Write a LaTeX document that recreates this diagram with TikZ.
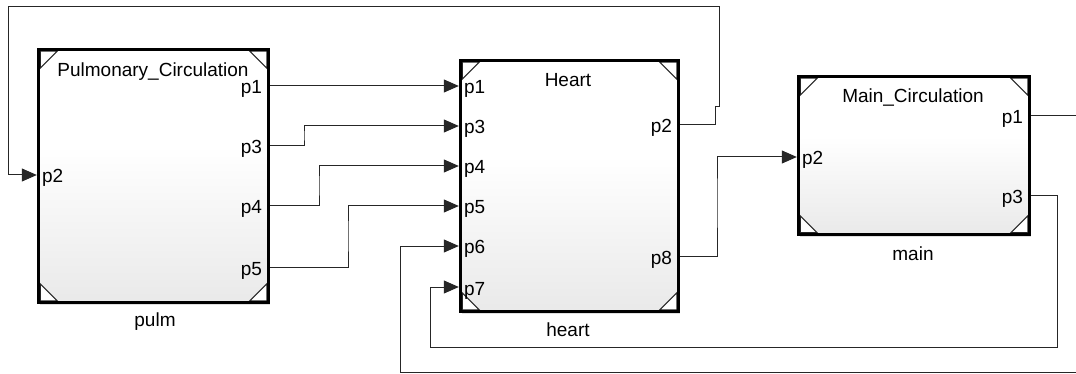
\documentclass[tikz,border=0pt]{standalone}
\usepackage{fontspec}
\setmainfont{Liberation Sans}
\usetikzlibrary{arrows.meta,shadows,calc}
\colorlet{blkbot}{gray!17}
\pgfdeclareverticalshading{blockshade}{100bp}{color(0bp)=(blkbot); color(25bp)=(blkbot); color(56bp)=(white); color(100bp)=(white)}
\tikzset{
  block/.style={inner sep=0pt, outer sep=1.7pt,
    shade, shading=blockshade,
    drop shadow={opacity=0.25, shadow xshift=1.5pt, shadow yshift=-2pt}},
  blockborder/.style={draw=black, line width=3.4pt, line join=miter},
  conn/.style={draw=black!85, line width=1pt},
  arr/.style={conn, -{Triangle[length=15pt,width=13pt]}},
  plabel/.style={inner sep=0pt, text height=0.72em, text depth=0.21em, font=\fontsize{19}{22}\selectfont},
  tlabel/.style={inner sep=0pt, anchor=base, text depth=0pt, font=\fontsize{19}{22}\selectfont},
  cornermark/.style={fill=white, draw=black!85, line width=1.1pt}
}
\newcommand{\blockframe}[1]{%
  \path[cornermark] ([shift={(3.4,3.4)}]#1.north west) -- +(17,0) -- +(0,17) -- cycle;
  \path[cornermark] ([shift={(-3.4,3.4)}]#1.north east) -- +(-17,0) -- +(0,17) -- cycle;
  \path[cornermark] ([shift={(3.4,-3.4)}]#1.south west) -- +(17,0) -- +(0,-17) -- cycle;
  \path[cornermark] ([shift={(-3.4,-3.4)}]#1.south east) -- +(-17,0) -- +(0,-17) -- cycle;
  \path[blockborder] ([shift={(1.7,1.7)}]#1.north west) rectangle ([shift={(-1.7,-1.7)}]#1.south east);
}
\begin{document}
\begin{tikzpicture}[x=1pt,y=-1pt]
\useasboundingbox[fill=white] (0,0) rectangle (1076,374);

% blocks
\node[block, minimum width=230pt, minimum height=253pt] (pulm) at (153.5,176) {};
\node[block, minimum width=218pt, minimum height=251pt] (heart) at (569.5,186) {};
\node[block, minimum width=231pt, minimum height=158pt] (main) at (914,155.5) {};
\blockframe{pulm}
\blockframe{heart}
\blockframe{main}

% titles and names
\node[tlabel] (pulmtitle) at (153,77) {Pulmonary\_Circulation};
\node[tlabel] (hearttitle) at (568,87) {Heart};
\node[tlabel] (maintitle) at (913,103) {Main\_Circulation};
\node[tlabel] (pulmname) at (155,326) {pulm};
\node[tlabel] (heartname) at (568,336) {heart};
\node[tlabel] (mainname) at (913,260) {main};

% port coordinates
\coordinate (pulm-p1) at (pulm.east |- 0,86);
\coordinate (pulm-p3) at (pulm.east |- 0,146);
\coordinate (pulm-p4) at (pulm.east |- 0,206);
\coordinate (pulm-p5) at (pulm.east |- 0,267);
\coordinate (pulm-p2) at (pulm.west |- 0,175);
\coordinate (heart-p1) at (heart.west |- 0,86);
\coordinate (heart-p3) at (heart.west |- 0,126);
\coordinate (heart-p4) at (heart.west |- 0,166);
\coordinate (heart-p5) at (heart.west |- 0,206);
\coordinate (heart-p6) at (heart.west |- 0,246);
\coordinate (heart-p7) at (heart.west |- 0,287);
\coordinate (heart-p2) at (heart.east |- 0,125);
\coordinate (heart-p8) at (heart.east |- 0,256);
\coordinate (main-p2) at (main.west |- 0,157);
\coordinate (main-p1) at (main.east |- 0,116);
\coordinate (main-p3) at (main.east |- 0,196);

% port labels
\foreach \n/\t in {pulm-p1/p1, pulm-p3/p3, pulm-p4/p4, pulm-p5/p5, heart-p2/p2, heart-p8/p8, main-p1/p1, main-p3/p3}
  \node[plabel, anchor=base east] (\n-lbl) at ([shift={(-8,8)}]\n) {\t};
\foreach \n/\t in {pulm-p2/p2, heart-p1/p1, heart-p3/p3, heart-p4/p4, heart-p5/p5, heart-p6/p6, heart-p7/p7, main-p2/p2}
  \node[plabel, anchor=base west] (\n-lbl) at ([shift={(5,8)}]\n) {\t};

% off-picture routing points
\coordinate (r6a) at (1090,116);
\coordinate (r6b) at (1090,372);
\coordinate (r6c) at (400,372);
\coordinate (r7a) at (1057,196);
\coordinate (r7b) at (1057,347);
\coordinate (r7c) at (430,347);
\coordinate (r2a) at (715,125);
\coordinate (r2b) at (715,107);
\coordinate (r2c) at (719,107);
\coordinate (r2d) at (719,7);
\coordinate (r2e) at (8,7);
\coordinate (r2f) at (8,175);

% connectors
\draw[arr] (pulm-p1) -- (heart-p1);
\draw[arr] (pulm-p3) -| (304,136) |- (heart-p3);
\draw[arr] (pulm-p4) -| (319,186) |- (heart-p4);
\draw[arr] (pulm-p5) -| (348,236) |- (heart-p5);
\draw[arr] (main-p1) -- (r6a) -- (r6b) -- (r6c) |- (heart-p6);
\draw[arr] (main-p3) -- (r7a) -- (r7b) -- (r7c) |- (heart-p7);
\draw[arr] (heart-p8) -| (717,200) |- (main-p2);
\draw[arr] (heart-p2) -- (r2a) -- (r2b) -- (r2c) -- (r2d) -- (r2e) -- (r2f) -- (pulm-p2);
\end{tikzpicture}
\end{document}
